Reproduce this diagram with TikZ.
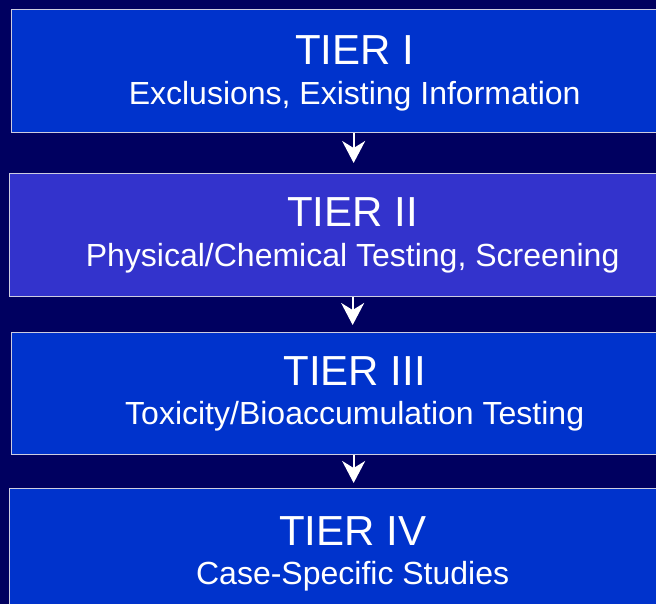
\documentclass[tikz,border=0pt]{standalone}
\usepackage{fontspec}
\setmainfont{Liberation Sans}
\usetikzlibrary{arrows.meta,positioning}

\definecolor{bgnavy}{RGB}{0,0,96}
\definecolor{tierblue}{RGB}{0,51,204}
\definecolor{tierviolet}{RGB}{51,51,204}
\definecolor{rimgrey}{RGB}{205,205,225}

\tikzset{
  tierbox/.style={draw=rimgrey, line width=1.3pt, fill=tierblue, rectangle,
    minimum width=686pt, minimum height=123pt, inner sep=0pt},
  tiertitle/.style={text=white, font=\fontsize{42}{48}\selectfont, inner sep=0pt},
  tiersub/.style={text=white, font=\fontsize{32}{38}\selectfont, inner sep=0pt},
  flowarrow/.style={draw=white, line width=2pt,
    -{Stealth[length=22pt,width=23pt,inset=7pt]}}
}

\begin{document}
\begin{tikzpicture}[x=1pt,y=-1pt]

    % Page and background
    \useasboundingbox (0,0) rectangle (656,604);
    \clip (0,0) rectangle (656,604);
    \fill[bgnavy] (0,0) rectangle (656,604);

    % The four tiers
    \node[tierbox, anchor=north west] (tier1) at (11,9) {};
    \node[tierbox, fill=tierviolet, anchor=north west] (tier2) at (9,173) {};
    \node[tierbox, minimum height=122pt, anchor=north west] (tier3) at (11,332) {};
    \node[tierbox, minimum height=135pt, anchor=north west] (tier4) at (9,488) {};

    % Titles and subtitles
    \node[tiertitle, anchor=base] (title1) at ([yshift=-56pt]tier1.north) {TIER I};
    \node[tiersub, anchor=base] (sub1) at ([yshift=-40pt]title1.base) {Exclusions, Existing Information};

    \node[tiertitle, anchor=base] (title2) at ([yshift=-54pt]tier2.north) {TIER II};
    \node[tiersub, anchor=base] (sub2) at ([yshift=-39pt]title2.base) {Physical/Chemical Testing, Screening};

    \node[tiertitle, anchor=base] (title3) at ([yshift=-53pt]tier3.north) {TIER III};
    \node[tiersub, anchor=base] (sub3) at ([yshift=-39pt]title3.base) {Toxicity/Bioaccumulation Testing};

    \node[tiertitle, anchor=base] (title4) at ([yshift=-57pt]tier4.north) {TIER IV};
    \node[tiersub, anchor=base] (sub4) at ([yshift=-39pt]title4.base) {Case-Specific Studies};

    % Arrows between tiers
    \draw[flowarrow, shorten >=10pt] ([xshift=-1pt]tier1.south) -- ([xshift=-1pt]tier1.south |- tier2.north);
    \draw[flowarrow, shorten >=7pt] (tier2.south) -- (tier2.south |- tier3.north);
    \draw[flowarrow, shorten >=5pt] ([xshift=-1pt]tier3.south) -- ([xshift=-1pt]tier3.south |- tier4.north);

\end{tikzpicture}
\end{document}
